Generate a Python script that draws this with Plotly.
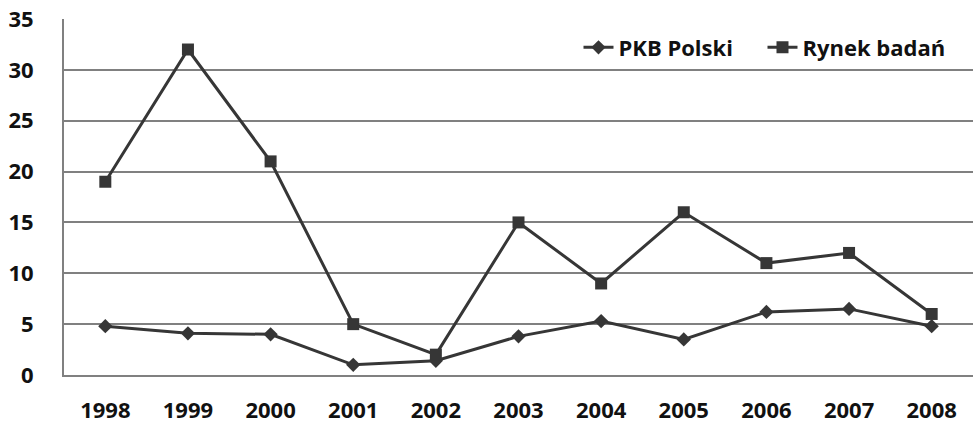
import plotly.graph_objects as go

years = ["1998", "1999", "2000", "2001", "2002", "2003", "2004", "2005", "2006", "2007", "2008"]
pkb_polski = [4.8, 4.1, 4.0, 1.0, 1.4, 3.8, 5.3, 3.5, 6.2, 6.5, 4.8]
rynek_badan = [19, 32, 21, 5, 2, 15, 9, 16, 11, 12, 6]
y_ticks = [0, 5, 10, 15, 20, 25, 30, 35]

line_color = "#363636"
grid_color = "#808080"
font_family = "'Open Sans', sans-serif"

fig = go.Figure()
fig.add_trace(go.Scatter(
    x=years, y=pkb_polski, name="PKB Polski", mode="lines+markers",
    line=dict(color=line_color, width=3),
    marker=dict(symbol="diamond", size=11, color=line_color),
))
fig.add_trace(go.Scatter(
    x=years, y=rynek_badan, name="Rynek badań", mode="lines+markers",
    line=dict(color=line_color, width=3),
    marker=dict(symbol="square", size=12, color=line_color),
))

fig.update_layout(
    width=973, height=426,
    margin=dict(l=64, r=0, t=19, b=51, autoexpand=False),
    paper_bgcolor="white", plot_bgcolor="white",
    font=dict(family=font_family, size=22, color="#111111", weight="bold"),
    showlegend=True,
    legend=dict(
        orientation="h", x=0.566, y=0.92, xanchor="left", yanchor="middle",
        font=dict(family=font_family, size=22, color="#111111", weight="bold"),
        bgcolor="rgba(0,0,0,0)", entrywidth=139, itemwidth=30,
    ),
    xaxis=dict(
        type="category", range=[-0.5, 10.5], automargin=False,
        tickfont=dict(family=font_family, size=22, color="#111111", weight="bold"),
        showgrid=False, showline=True, linecolor=grid_color, linewidth=2,
        ticks="", ticklabelstandoff=15, zeroline=False,
    ),
    yaxis=dict(
        range=[0, 35], tickvals=y_ticks, ticktext=[str(v) for v in y_ticks],
        automargin=False,
        tickfont=dict(family=font_family, size=22, color="#111111", weight="bold"),
        showgrid=True, gridcolor=grid_color, gridwidth=1.5,
        showline=True, linecolor=grid_color, linewidth=2,
        ticks="", ticklabelstandoff=24, zeroline=False,
    ),
)

fig.write_html("out.html", config={"displayModeBar": False},
               post_script="document.body.style.margin='0';")
